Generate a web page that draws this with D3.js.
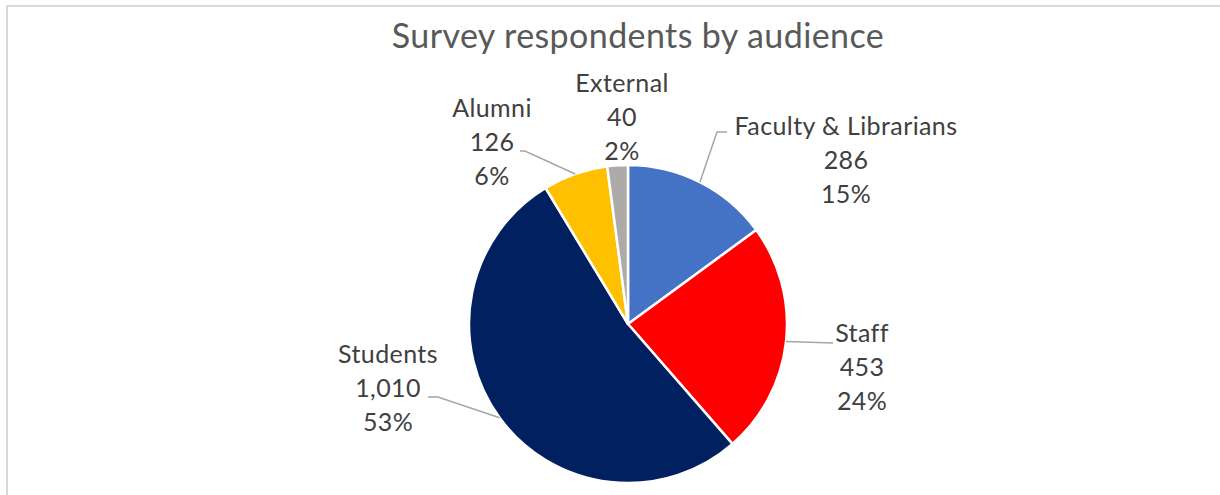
<!DOCTYPE html>
<html>
<head>
<meta charset="utf-8">
<script src="https://cdn.jsdelivr.net/npm/d3@7"></script>
<style>
  html, body { margin: 0; padding: 0; background: #fff; }
  svg { display: block; }
</style>
</head>
<body>
<svg id="chart" width="1220" height="495"></svg>
<script>
// Respondent counts by audience, clockwise from 12 o'clock
const categories = ["Faculty & Librarians", "Staff", "Students", "Alumni", "External"];
const counts = [286, 453, 1010, 126, 40];
const percentLabels = ["15%", "24%", "53%", "6%", "2%"];
const colors = ["#4472C4", "#FF0000", "#002060", "#FFC000", "#AEAAAA"];

const W = 1220, H = 495;
const cx = 628, cy = 324, R = 159;

// Label block placement (centre x, first baseline) and leader-line elbows
const labelLayout = [
  { x: 846, y: 135, elbow: [[717, 132], [727, 132]] },
  { x: 862, y: 342, elbow: [[833, 343]] },
  { x: 388, y: 363, elbow: [[438, 397], [428, 397]] },
  { x: 492, y: 117, elbow: [[525, 151], [520, 151]] },
  { x: 622, y: 92, elbow: null }
];
const lineGap = 34;

const svg = d3.select("#chart");

// chart frame
svg.append("rect")
  .attr("x", 7).attr("y", 6)
  .attr("width", 1400).attr("height", 700)
  .attr("fill", "#fff")
  .attr("stroke", "#D9D9D9")
  .attr("stroke-width", 2);

svg.append("text")
  .attr("x", 638).attr("y", 48)
  .attr("text-anchor", "middle")
  .attr("font-family", "Lato, 'Open Sans', sans-serif")
  .attr("font-size", 34)
  .attr("letter-spacing", 0.4)
  .attr("fill", "#595959")
  .text("Survey respondents by audience");

const data = categories.map((c, i) => ({ name: c, value: counts[i], pct: percentLabels[i], color: colors[i], layout: labelLayout[i] }));

const pie = d3.pie().sort(null).value(d => d.value).startAngle(0).endAngle(2 * Math.PI);
const arcs = pie(data);
const arc = d3.arc().innerRadius(0).outerRadius(R);

const g = svg.append("g").attr("transform", `translate(${cx},${cy})`);

g.selectAll("path.slice")
  .data(arcs)
  .join("path")
  .attr("class", "slice")
  .attr("d", arc)
  .attr("fill", d => d.data.color)
  .attr("stroke", "#fff")
  .attr("stroke-width", 2.5)
  .attr("stroke-linejoin", "round");

// leader lines from the slice edge at its mid-angle
const fmt = d3.format(",");
arcs.forEach(a => {
  const L = a.data.layout;
  if (!L.elbow) return;
  const mid = (a.startAngle + a.endAngle) / 2;
  const p0 = [cx + R * Math.sin(mid), cy - R * Math.cos(mid)];
  const pts = [p0].concat(L.elbow);
  svg.append("path")
    .attr("d", d3.line()(pts))
    .attr("fill", "none")
    .attr("stroke", "#A6A6A6")
    .attr("stroke-width", 1.5);
});

const labels = svg.selectAll("text.lbl")
  .data(arcs)
  .join("text")
  .attr("class", "lbl")
  .attr("text-anchor", "middle")
  .attr("font-family", "Lato, 'Open Sans', sans-serif")
  .attr("font-size", 25)
  .attr("letter-spacing", 0.4)
  .attr("fill", "#404040");

labels.each(function (a) {
  const t = d3.select(this);
  const L = a.data.layout;
  [a.data.name, fmt(a.data.value), a.data.pct].forEach((s, i) => {
    t.append("tspan").attr("x", L.x).attr("y", L.y + i * lineGap).text(s);
  });
});
</script>
</body>
</html>
